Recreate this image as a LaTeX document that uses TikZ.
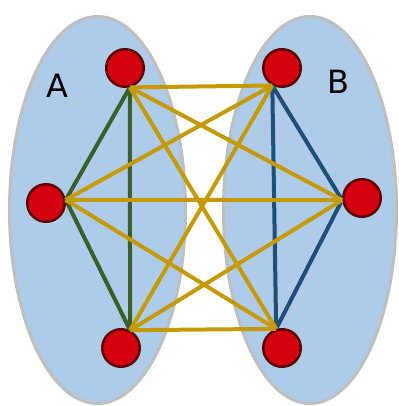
\documentclass[tikz,border=0pt]{standalone}
\usepackage{fontspec}
\setsansfont{DejaVu Sans}
\definecolor{setblue}{HTML}{AECCE9}
\definecolor{setgray}{HTML}{BFBFBF}
\definecolor{vred}{HTML}{D40012}
\definecolor{vdark}{HTML}{5E0000}
\definecolor{crossgold}{HTML}{C49A00}
\definecolor{leftgreen}{HTML}{3B5E2B}
\definecolor{rightblue}{HTML}{1F4E79}

\begin{document}
\begin{tikzpicture}[
        x=1pt, y=-1pt,
        group/.style={fill=setblue, draw=setgray, line width=3pt},
        vertex/.style={circle, fill=vred, draw=vdark, line width=2.5pt,
                       minimum size=37.5pt, inner sep=0pt},
        edge/.style={line width=4pt},
        setlabel/.style={font=\sffamily\fontsize{32}{38}\selectfont}
    ]
    \useasboundingbox (0,0) rectangle (398,406);

    % Mengen
    \draw[group] (97.5,210) ellipse[x radius=88, y radius=193.5];
    \draw[group] (310,210) ellipse[x radius=86.5, y radius=193.5];
    \node[setlabel] (labA) at (57,86) {A};
    \node[setlabel] (labB) at (338,82) {B};

    % Knoten
    \node[vertex] (tl) at (125,68) {};
    \node[vertex] (ml) at (46,203) {};
    \node[vertex] (bl) at (121,348) {};
    \node[vertex] (tr) at (282,68) {};
    \node[vertex] (mr) at (362,198) {};
    \node[vertex] (br) at (282,348) {};

    % Kanten innerhalb von A
    \draw[edge, leftgreen] (tl.-76) -- (ml.9);
    \draw[edge, leftgreen] (tl.-76) -- (bl.63);
    \draw[edge, leftgreen] (ml.9) -- (bl.63);

    % Kanten innerhalb von B
    \draw[edge, rightblue] (tr.-119) -- (mr.186);
    \draw[edge, rightblue] (tr.-119) -- (br.107);
    \draw[edge, rightblue] (mr.186) -- (br.107);

    % Kanten zwischen A und B
    \foreach \a/\p in {tl/-76, ml/9, bl/63}
        \foreach \b/\q in {tr/-119, mr/186, br/107}
            \draw[edge, crossgold] (\a.\p) -- (\b.\q);

\end{tikzpicture}
\end{document}
